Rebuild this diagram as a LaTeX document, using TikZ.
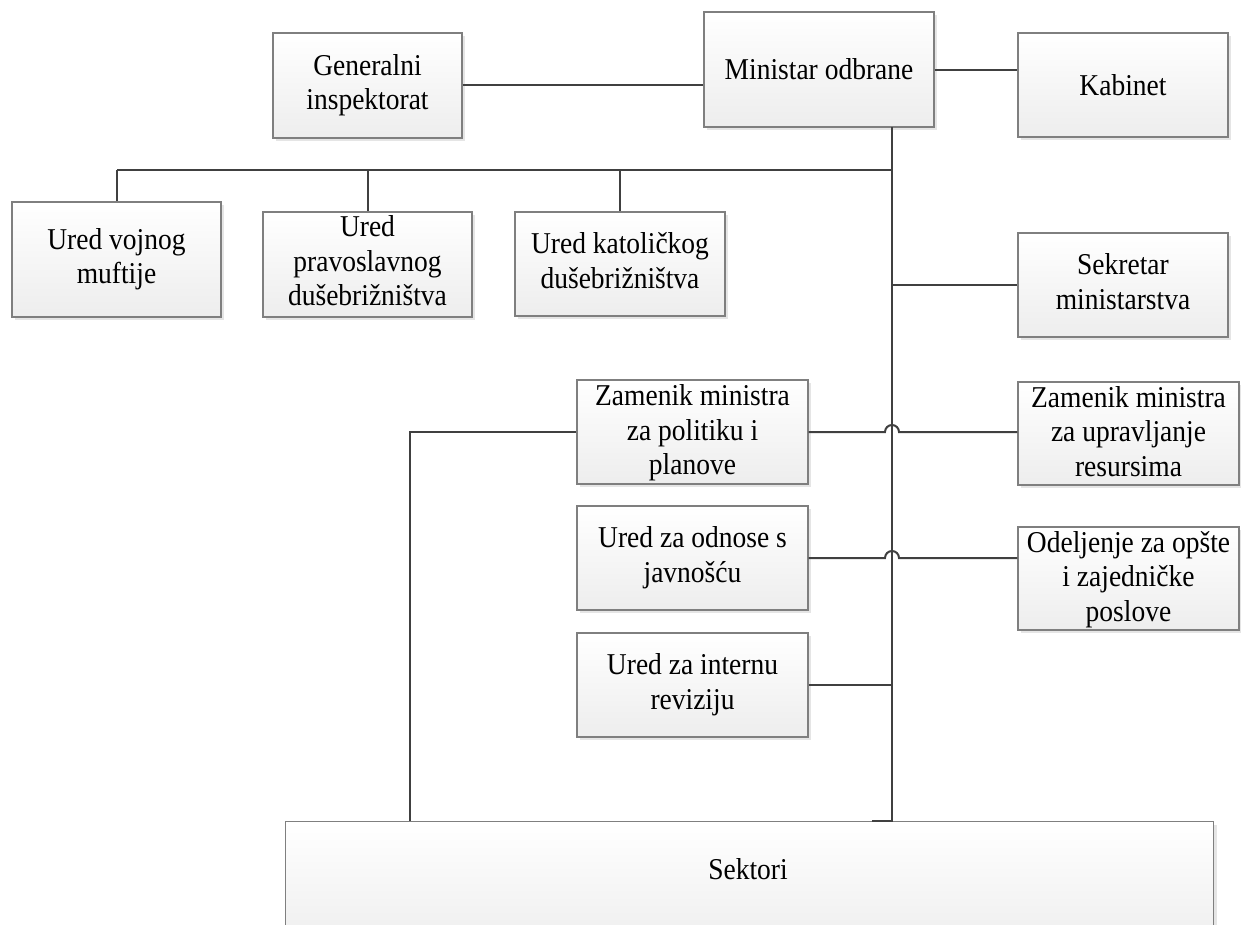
\documentclass[tikz,border=0pt]{standalone}
\usepackage{fontspec}
\usepackage{graphicx}
\setmainfont{Liberation Serif}
\usetikzlibrary{shadows}
\definecolor{edgegray}{HTML}{7F7F7F}
\definecolor{linkgray}{HTML}{404040}
\tikzset{
  unit/.style={draw=edgegray, line width=1.2pt, top color=white, bottom color=black!7,
    inner sep=0pt,
    drop shadow={shadow xshift=3pt, shadow yshift=-3pt, fill=black!10, opacity=1}},
  unitlabel/.style={inner sep=0pt, align=center},
  link/.style={draw=linkgray, line width=2pt}
}
% unit text: Times-like face, slightly tall
\newcommand{\unittext}[1]{\scalebox{1}[1.1]{\fontsize{27.5}{31.3}\selectfont
  \begin{tabular}{@{}c@{}}#1\end{tabular}}}
% [label drop], name, left, top, right, bottom, text
\newcommand{\unitbox}[7][0]{%
  \node[unit, minimum width={#5-#3}, minimum height={#6-#4}]
    (#2) at ({(#3+#5)/2},{(#4+#6)/2}) {};
  \node[unitlabel] (#2-t) at ([yshift=-#1pt]#2.center) {\unittext{#7}};}
\begin{document}
\begin{tikzpicture}[x=1pt,y=-1pt]
\clip (0,0) rectangle (1241,924);
\fill[white] (0,0) rectangle (1241,924);

% units
\unitbox{gen}{273}{33}{462}{138}{Generalni\\inspektorat}
\unitbox[3]{min}{704}{12}{934}{127}{Ministar odbrane}
\unitbox[4]{kab}{1018}{33}{1228}{137}{Kabinet}
\unitbox{muf}{12}{202}{221}{317}{Ured vojnog\\muftije}
\unitbox{pra}{263}{212}{472}{317}{Ured\\pravoslavnog\\dušebrižništva}
\unitbox{kat}{515}{212}{725}{316}{Ured katoličkog\\dušebrižništva}
\unitbox{sek}{1018}{233}{1228}{337}{Sekretar\\ministarstva}
\unitbox[1.5]{zp}{577}{380}{808}{484}{Zamenik ministra\\za politiku i\\planove}
\unitbox[1.5]{zr}{1018}{382}{1239}{485}{Zamenik ministra\\za upravljanje\\resursima}
\unitbox{uo}{577}{506}{808}{610}{Ured za odnose s\\javnošću}
\unitbox[1.5]{od}{1018}{527}{1239}{630}{Odeljenje za opšte\\i zajedničke\\poslove}
\unitbox{ui}{577}{633}{808}{737}{Ured za internu\\reviziju}
\node[unit, minimum width=928pt, minimum height=130pt, anchor=north west] (sekt) at (285,821) {};
\node[unitlabel] (sekt-t) at (748,873) {\unittext{Sektori}};

% trunk and bus points
\coordinate (t0) at (892,127);
\coordinate (bus) at (892,170);
\coordinate (tb) at (892,821);
\coordinate (lb) at (410,821);

% connectors
\draw[link] (gen.east |- 0,85) -- (min.west |- 0,85);
\draw[link] (min.east) -- (min.east -| kab.west);
\draw[link] (t0) -- (tb) -- ++(-20,0);
\draw[link] (bus) -- (bus -| muf.north);
\draw[link] (bus -| muf.north) -- (muf.north);
\draw[link] (bus -| pra.north) -- (pra.north);
\draw[link] (bus -| kat.north) -- (kat.north);
\draw[link] (t0 |- sek.west) -- (sek.west);
\draw[link] (zp.east) -- (885,432) arc (180:360:7) -- (zr.west |- 0,432);
\draw[link] (uo.east) -- (885,558) arc (180:360:7) -- (od.west |- 0,558);
\draw[link] (ui.east) -- (t0 |- ui.east);
\draw[link] (zp.west) -| (lb);
\end{tikzpicture}
\end{document}
